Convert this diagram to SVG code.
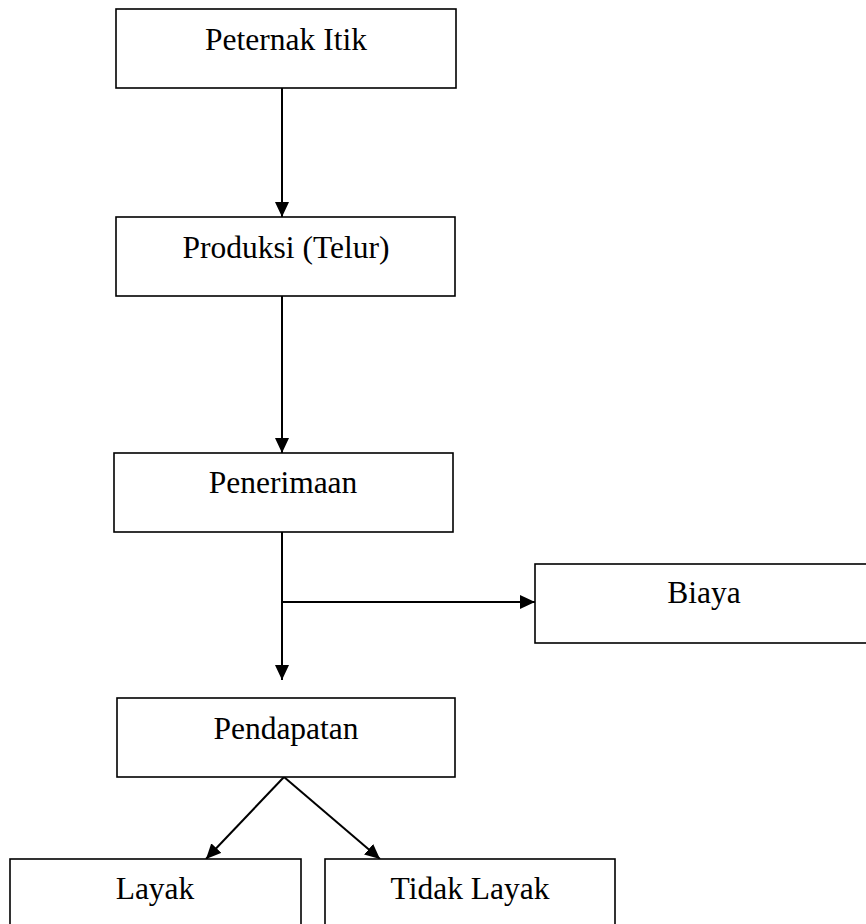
<svg xmlns="http://www.w3.org/2000/svg" width="866" height="924" viewBox="0 0 866 924">
<style>
.box{fill:#fff;stroke:#000;stroke-width:1.6}
.lbl{font-family:"Liberation Serif","Times New Roman",serif;font-size:31.5px;fill:#000;text-anchor:middle}
.edge{stroke:#000;stroke-width:2;fill:none}
</style>
<defs>
<marker id="ah" markerUnits="userSpaceOnUse" markerWidth="16" markerHeight="14" refX="15" refY="7" orient="auto">
<path d="M0,0 L15,7 L0,14 Z" fill="#000"/>
</marker>
</defs>
<rect width="866" height="924" fill="#fff"/>
<g id="connectors">
<line class="edge" x1="282" y1="88" x2="282" y2="217" marker-end="url(#ah)"/>
<line class="edge" x1="282" y1="296" x2="282" y2="453" marker-end="url(#ah)"/>
<line class="edge" x1="282" y1="532" x2="282" y2="680" marker-end="url(#ah)"/>
<line class="edge" x1="282" y1="602" x2="535" y2="602" marker-end="url(#ah)"/>
<line class="edge" x1="284" y1="777" x2="206" y2="859" marker-end="url(#ah)"/>
<line class="edge" x1="284" y1="777" x2="380" y2="859" marker-end="url(#ah)"/>
</g>
<g id="peternak">
<rect class="box" x="116" y="9" width="340" height="79"/>
<text class="lbl" x="286" y="50">Peternak Itik</text>
</g>
<g id="produksi">
<rect class="box" x="116" y="217" width="339" height="79"/>
<text class="lbl" x="286" y="258">Produksi (Telur)</text>
</g>
<g id="penerimaan">
<rect class="box" x="114" y="453" width="339" height="79"/>
<text class="lbl" x="283" y="493">Penerimaan</text>
</g>
<g id="biaya">
<rect class="box" x="535" y="564" width="345" height="79"/>
<text class="lbl" x="704" y="603">Biaya</text>
</g>
<g id="pendapatan">
<rect class="box" x="117" y="698" width="338" height="79"/>
<text class="lbl" x="286" y="739">Pendapatan</text>
</g>
<g id="layak">
<rect class="box" x="10" y="859" width="291" height="80"/>
<text class="lbl" x="155" y="899">Layak</text>
</g>
<g id="tidak-layak">
<rect class="box" x="325" y="859" width="290" height="80"/>
<text class="lbl" x="470" y="899">Tidak Layak</text>
</g>
</svg>
